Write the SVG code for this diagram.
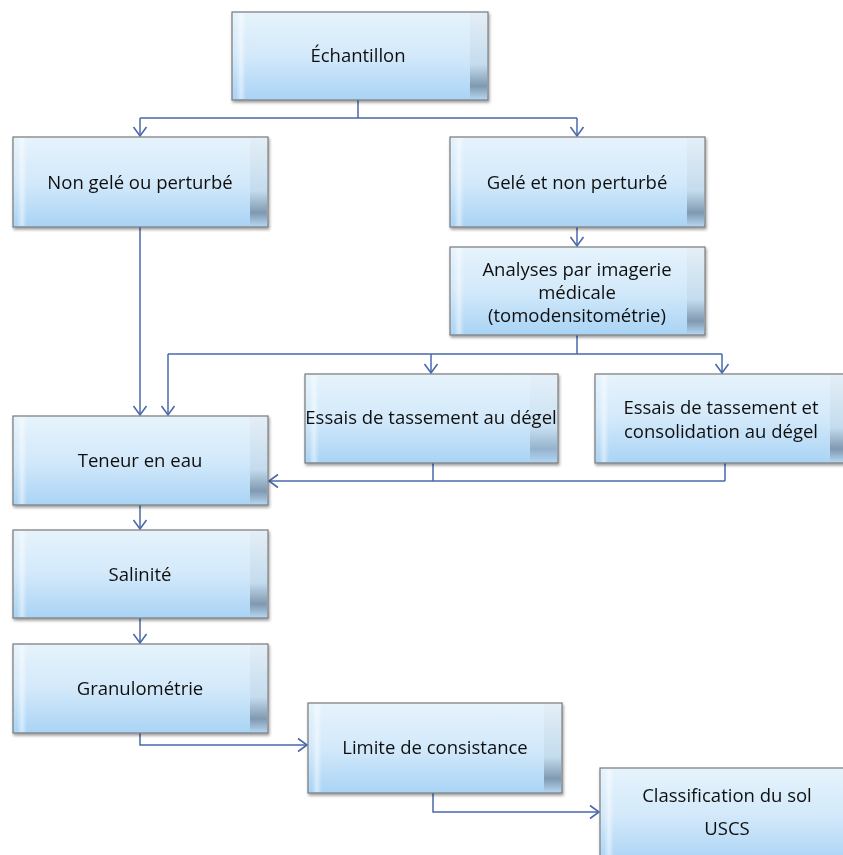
<svg xmlns="http://www.w3.org/2000/svg" width="843" height="855" viewBox="0 0 843 855">
<defs>
<linearGradient id="fill" x1="0" y1="0" x2="0" y2="1">
<stop offset="0" stop-color="#e6f3fc"/>
<stop offset="0.5" stop-color="#d3e9fa"/>
<stop offset="1" stop-color="#a9d3f5"/>
</linearGradient>
<linearGradient id="side" x1="0" y1="0" x2="0" y2="1">
<stop offset="0" stop-color="#e4eef6"/>
<stop offset="0.6" stop-color="#c4dcee"/>
<stop offset="0.85" stop-color="#7f99b0"/>
<stop offset="1" stop-color="#b3d3ee"/>
</linearGradient>
<linearGradient id="lstrip" x1="0" y1="0" x2="1" y2="0">
<stop offset="0" stop-color="#ffffff" stop-opacity="0"/>
<stop offset="0.5" stop-color="#ffffff" stop-opacity="0.5"/>
<stop offset="1" stop-color="#ffffff" stop-opacity="0"/>
</linearGradient>
<filter id="sh" x="-5%" y="-5%" width="115%" height="120%">
<feGaussianBlur in="SourceAlpha" stdDeviation="1.5"/>
<feOffset dx="1" dy="2" result="o"/>
<feComponentTransfer><feFuncA type="linear" slope="0.4"/></feComponentTransfer>
<feMerge><feMergeNode/><feMergeNode in="SourceGraphic"/></feMerge>
</filter>
<marker id="arr" markerWidth="16" markerHeight="16" refX="11" refY="8" orient="auto" markerUnits="userSpaceOnUse">
<path d="M2,1.5 L11,8 L2,14.5" fill="none" stroke="#4a68ad" stroke-width="1.6"/>
</marker>
</defs>
<style>
.box{fill:url(#fill);stroke:#7a7a7a;stroke-width:1.2}
.rs{fill:url(#side)}
.ls{fill:url(#lstrip)}
text{font-family:"Open Sans","Liberation Sans",Arial,sans-serif;font-size:18.5px;fill:#111;text-anchor:middle}
.c{fill:none;stroke:#4a68ad;stroke-width:1.5}
</style>
<rect width="843" height="855" fill="#ffffff"/>

<g id="connectors">
<path class="c" d="M358,100 V118 M140,118 H577"/>
<path class="c" d="M140,118 V136" marker-end="url(#arr)"/>
<path class="c" d="M577,118 V136" marker-end="url(#arr)"/>
<path class="c" d="M140,227 V415" marker-end="url(#arr)"/>
<path class="c" d="M577,227 V246" marker-end="url(#arr)"/>
<path class="c" d="M577,335 V354 M168,354 H722"/>
<path class="c" d="M168,354 V415" marker-end="url(#arr)"/>
<path class="c" d="M431,354 V373" marker-end="url(#arr)"/>
<path class="c" d="M722,354 V373" marker-end="url(#arr)"/>
<path class="c" d="M433,463 V481 M725,463 V481"/>
<path class="c" d="M725,481 H269" marker-end="url(#arr)"/>
<path class="c" d="M140,505 V529" marker-end="url(#arr)"/>
<path class="c" d="M140,618 V643" marker-end="url(#arr)"/>
<path class="c" d="M140,733 V745 H307" marker-end="url(#arr)"/>
<path class="c" d="M433,793 V812 H599" marker-end="url(#arr)"/>
</g>

<g id="echantillon" filter="url(#sh)">
<rect class="box" x="232" y="12" width="256" height="88"/>
<rect class="ls" x="236" y="13" width="10" height="86"/>
<rect class="rs" x="470" y="13" width="17" height="86"/>
<text x="358" y="62">Échantillon</text>
</g>

<g id="non-gele" filter="url(#sh)">
<rect class="box" x="13" y="137" width="255" height="90"/>
<rect class="ls" x="17" y="138" width="10" height="88"/>
<rect class="rs" x="250" y="138" width="17" height="88"/>
<text x="140" y="189">Non gelé ou perturbé</text>
</g>

<g id="gele" filter="url(#sh)">
<rect class="box" x="450" y="137" width="255" height="90"/>
<rect class="ls" x="454" y="138" width="10" height="88"/>
<rect class="rs" x="687" y="138" width="17" height="88"/>
<text x="577" y="189">Gelé et non perturbé</text>
</g>

<g id="analyses" filter="url(#sh)">
<rect class="box" x="450" y="247" width="255" height="88"/>
<rect class="ls" x="454" y="248" width="10" height="86"/>
<rect class="rs" x="687" y="248" width="17" height="86"/>
<text x="577" y="276">Analyses par imagerie</text>
<text x="577" y="299">médicale</text>
<text x="577" y="322">(tomodensitométrie)</text>
</g>

<g id="essais-degel" filter="url(#sh)">
<rect class="box" x="305" y="374" width="253" height="89"/>
<rect class="ls" x="309" y="375" width="10" height="87"/>
<rect class="rs" x="530" y="375" width="27" height="87" opacity="0.6"/>
<text x="431" y="424">Essais de tassement au dégel</text>
</g>

<g id="essais-consolidation" filter="url(#sh)">
<rect class="box" x="595" y="374" width="250" height="89"/>
<rect class="ls" x="599" y="375" width="10" height="87"/>
<rect class="rs" x="830" y="375" width="14" height="87"/>
<text x="721" y="414">Essais de tassement et</text>
<text x="721" y="438">consolidation au dégel</text>
</g>

<g id="teneur" filter="url(#sh)">
<rect class="box" x="13" y="416" width="255" height="89"/>
<rect class="ls" x="17" y="417" width="10" height="87"/>
<rect class="rs" x="250" y="417" width="17" height="87"/>
<text x="140" y="467">Teneur en eau</text>
</g>

<g id="salinite" filter="url(#sh)">
<rect class="box" x="13" y="530" width="255" height="88"/>
<rect class="ls" x="17" y="531" width="10" height="86"/>
<rect class="rs" x="250" y="531" width="17" height="86"/>
<text x="140" y="581">Salinité</text>
</g>

<g id="granulometrie" filter="url(#sh)">
<rect class="box" x="13" y="644" width="255" height="89"/>
<rect class="ls" x="17" y="645" width="10" height="87"/>
<rect class="rs" x="250" y="645" width="17" height="87"/>
<text x="140" y="695">Granulométrie</text>
</g>

<g id="limite" filter="url(#sh)">
<rect class="box" x="308" y="703" width="254" height="90"/>
<rect class="ls" x="312" y="704" width="10" height="88"/>
<rect class="rs" x="544" y="704" width="17" height="88"/>
<text x="435" y="754">Limite de consistance</text>
</g>

<g id="classification" filter="url(#sh)">
<rect class="box" x="600" y="768" width="255" height="95"/>
<rect class="ls" x="604" y="769" width="10" height="93"/>
<text x="727" y="802">Classification du sol</text>
<text x="727" y="835">USCS</text>
</g>
</svg>
